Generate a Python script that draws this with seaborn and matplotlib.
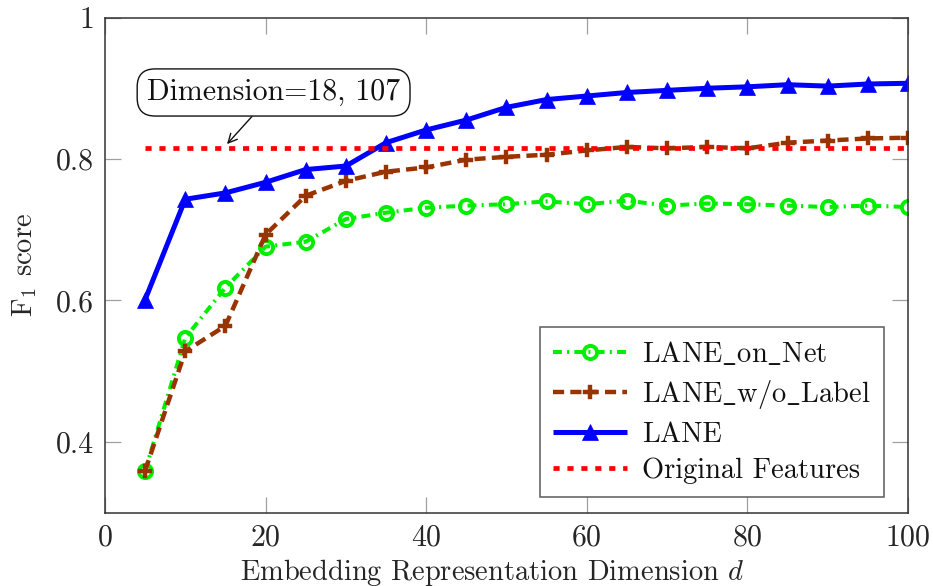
import numpy as np
import pandas as pd
import matplotlib
matplotlib.use("Agg")
import matplotlib.pyplot as plt
import seaborn as sns

# ---------------- data ----------------
dims = [5, 10, 15, 20, 25, 30, 35, 40, 45, 50, 55, 60, 65, 70, 75, 80, 85, 90, 95, 100]
lane_on_net = [0.359, 0.547, 0.618, 0.676, 0.683, 0.715, 0.724, 0.731, 0.734, 0.736,
               0.740, 0.736, 0.741, 0.734, 0.737, 0.736, 0.734, 0.732, 0.734, 0.732]
lane_wo_label = [0.359, 0.528, 0.564, 0.693, 0.748, 0.769, 0.782, 0.788, 0.799, 0.803,
                 0.806, 0.812, 0.817, 0.815, 0.817, 0.815, 0.823, 0.826, 0.829, 0.830]
lane = [0.601, 0.743, 0.752, 0.767, 0.785, 0.790, 0.823, 0.841, 0.855, 0.873,
        0.884, 0.889, 0.894, 0.897, 0.900, 0.902, 0.905, 0.903, 0.906, 0.907]
orig_x = [5, 100]
orig_y = [0.815, 0.815]

labels = [r"LANE$\_$on$\_$Net", r"LANE$\_$w/o$\_$Label", "LANE", "Original Features"]
x_ticks = [0, 20, 40, 60, 80, 100]
y_ticks = [0.4, 0.6, 0.8, 1.0]
y_tick_labels = ["0.4", "0.6", "0.8", "1"]
annot_text = "Dimension=18, 107"

# ---------------- style ----------------
sns.set_theme(style="ticks")
plt.rcParams["font.family"] = ["cmr10", "DejaVu Serif"]
plt.rcParams["mathtext.fontset"] = "cm"
plt.rcParams["axes.formatter.use_mathtext"] = True
plt.rcParams["axes.unicode_minus"] = False

FS = 21.5
LFS = 20.5
TXT = "#262626"

fig = plt.figure(figsize=(9.33, 5.86), dpi=100)
ax = fig.add_axes([0.1125, 0.1254, 0.8607, 0.8447])

df = pd.DataFrame({"d": dims, "net": lane_on_net, "wo": lane_wo_label, "lane": lane})
dfo = pd.DataFrame({"d": orig_x, "v": orig_y})

sns.lineplot(data=df, x="d", y="net", ax=ax, color="#00ee00", lw=2.9,
             marker="o", markersize=9.5, markerfacecolor="none",
             markeredgecolor="#00ee00", markeredgewidth=2.8,
             label=labels[0])
ax.lines[-1].set_dashes((2.2, 1.3, 0.5, 1.3))

sns.lineplot(data=df, x="d", y="wo", ax=ax, color="#993300", lw=3.2,
             marker="P", markersize=10.5, markerfacecolor="#993300",
             markeredgecolor="#993300", markeredgewidth=0.3,
             label=labels[1])
ax.lines[-1].set_dashes((2.5, 1.4))

sns.lineplot(data=df, x="d", y="lane", ax=ax, color="#0000ff", lw=3.6,
             marker="^", markersize=11, markerfacecolor="#0000ff",
             markeredgecolor="#0000ff", markeredgewidth=0.5,
             label=labels[2])

sns.lineplot(data=dfo, x="d", y="v", ax=ax, color="#ff0000", lw=3.4,
             label=labels[3])
ax.lines[-1].set_dashes((1.3, 1.65))
for ln in ax.lines:
    ln.set_dash_capstyle("butt")
    ln.set_solid_capstyle("butt")

ax.set_xlim(0, 100)
ax.set_ylim(0.3, 1.0)
ax.set_xticks(x_ticks)
ax.set_yticks(y_ticks)
ax.set_yticklabels(y_tick_labels)
ax.tick_params(direction="in", length=11.5, width=0.9, color="#a0a0a0",
               labelsize=FS, labelcolor=TXT, pad=8,
               top=True, right=True)
for s in ax.spines.values():
    s.set_visible(True)
    s.set_color("#333333")
    s.set_linewidth(1.1)

ax.set_xlabel("Embedding Representation Dimension $d$", fontsize=LFS, color=TXT, labelpad=4)
ax.xaxis.label.set_x(0.482)
ax.set_ylabel("F$_1$ score", fontsize=LFS, color=TXT, labelpad=12)

ax.annotate(annot_text, xy=(15.2, 0.821), xytext=(21.0, 0.894),
            ha="center", va="center", fontsize=FS, color="#111111",
            bbox=dict(boxstyle="round,pad=0.33,rounding_size=0.6", fc="white",
                      ec="#111111", lw=1.0),
            arrowprops=dict(arrowstyle="->", color="#111111", lw=1.0,
                            shrinkA=0, shrinkB=0, mutation_scale=16))

leg = ax.legend(loc="lower right", bbox_to_anchor=(0.97, 0.031), fontsize=LFS,
                frameon=True, fancybox=False, edgecolor="#333333",
                handlelength=2.6, labelspacing=0.36, borderpad=0.45,
                handletextpad=0.55, borderaxespad=0)
leg.get_frame().set_linewidth(1.1)
for t in leg.get_texts():
    t.set_color("#111111")

fig.savefig("out.png", dpi=100)
